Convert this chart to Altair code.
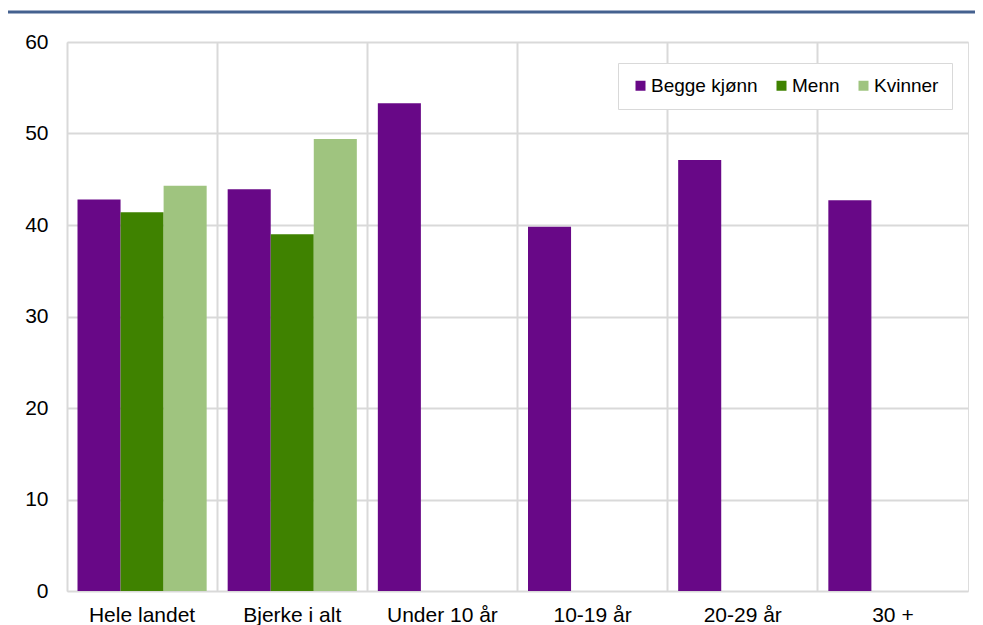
import altair as alt
import pandas as pd

categories = ["Hele landet", "Bjerke i alt", "Under 10 år", "10-19 år", "20-29 år", "30 +"]
series = ["Begge kjønn", "Menn", "Kvinner"]
begge = [42.8, 43.9, 53.3, 39.8, 47.1, 42.7]
menn = [41.4, 39.0, None, None, None, None]
kvinner = [44.3, 49.4, None, None, None, None]
colors = ["#680887", "#3F8200", "#9FC47F"]

rows = []
for i, c in enumerate(categories):
    for s, vals in zip(series, [begge, menn, kvinner]):
        if vals[i] is not None:
            rows.append({"kategori": c, "serie": s, "verdi": vals[i]})
df = pd.DataFrame(rows)

font = "Liberation Sans"

bars = alt.Chart(df).mark_bar().encode(
    x=alt.X("kategori:N", sort=categories, title=None,
            scale=alt.Scale(paddingInner=0, paddingOuter=0),
            axis=alt.Axis(labelAngle=0, labelFontSize=21, labelFont=font, labelColor="#000000",
                          labelPadding=13, ticks=False, domain=False, grid=True,
                          bandPosition=0, gridColor="#D9D9D9", gridWidth=2)),
    xOffset=alt.XOffset("serie:N", sort=series,
                        scale=alt.Scale(domain=series, paddingInner=0, paddingOuter=0.244)),
    y=alt.Y("verdi:Q", title=None,
            scale=alt.Scale(domain=[0, 60], nice=False),
            axis=alt.Axis(values=[0, 10, 20, 30, 40, 50, 60], labelFontSize=21, labelFont=font,
                          labelColor="#000000", labelPadding=19, ticks=False, domain=False,
                          gridColor="#D9D9D9", gridWidth=2)),
    color=alt.Color("serie:N", sort=series,
                    scale=alt.Scale(domain=series, range=colors),
                    legend=alt.Legend(title=None, orient="none", legendX=551, legendY=21,
                                      direction="horizontal", symbolType="square",
                                      symbolSize=100, labelFontSize=19, labelFont=font,
                                      labelColor="#000000", columnPadding=14, labelOffset=1,
                                      padding=13, strokeColor="#D9D9D9",
                                      fillColor="#FFFFFF")),
)

topline = alt.Chart(pd.DataFrame({"a": [0]})).mark_rule(
    color="#44618F", strokeWidth=3, clip=False
).encode(x=alt.value(-59), x2=alt.value(930), y=alt.value(-30))

chart = alt.layer(bars, topline).properties(
    width=901, height=549,
    autosize=alt.AutoSizeParams(type="none"),
    padding={"left": 59, "top": 34, "right": 7, "bottom": 34},
).configure_view(stroke="#D9D9D9", strokeWidth=2).configure(background="#FFFFFF")

chart.save("out.html", embed_options={"renderer": "svg", "actions": False})
